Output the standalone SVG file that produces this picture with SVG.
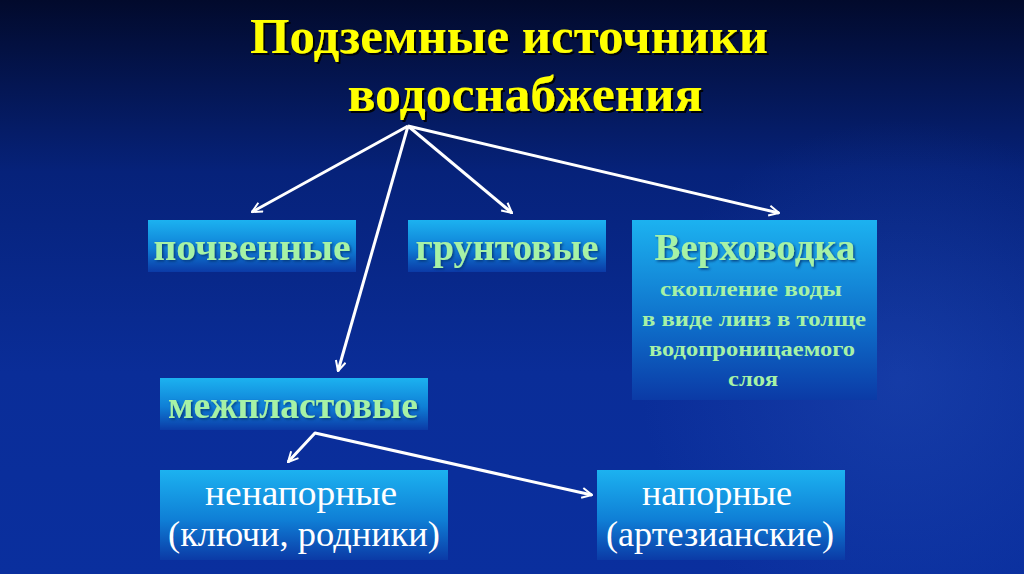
<svg xmlns="http://www.w3.org/2000/svg" width="1024" height="574" viewBox="0 0 1024 574">
<defs>
<linearGradient id="bg" x1="0" y1="0" x2="0" y2="1">
<stop offset="0" stop-color="#020a2c"/>
<stop offset="0.3" stop-color="#06227a"/>
<stop offset="0.65" stop-color="#0a2d98"/>
<stop offset="1" stop-color="#0a2f9e"/>
</linearGradient>
<radialGradient id="glow" cx="900" cy="380" r="260" gradientUnits="userSpaceOnUse">
<stop offset="0" stop-color="#2a56c0" stop-opacity="0.35"/>
<stop offset="1" stop-color="#2a56c0" stop-opacity="0"/>
</radialGradient>
<linearGradient id="box" x1="0" y1="0" x2="0" y2="1">
<stop offset="0" stop-color="#1cb2f0"/>
<stop offset="0.55" stop-color="#0f7fd6"/>
<stop offset="1" stop-color="#0b3aa6"/>
</linearGradient>
<linearGradient id="boxTall" x1="0" y1="0" x2="0" y2="1">
<stop offset="0" stop-color="#1cb2f0"/>
<stop offset="0.6" stop-color="#0e6cc8"/>
<stop offset="1" stop-color="#0b3aa6"/>
</linearGradient>
<marker id="ah" viewBox="0 0 12 12" refX="11" refY="6" markerWidth="12" markerHeight="12" markerUnits="userSpaceOnUse" orient="auto-start-reverse">
<path d="M1,1 L11,6 L1,11" fill="none" stroke="#ffffff" stroke-width="2"/>
</marker>
<filter id="sh" x="-10%" y="-10%" width="120%" height="130%">
<feDropShadow dx="2" dy="2" stdDeviation="0.6" flood-color="#000000" flood-opacity="0.9"/>
</filter>
<filter id="sh2" x="-10%" y="-10%" width="120%" height="130%">
<feDropShadow dx="1.5" dy="1.5" stdDeviation="0.8" flood-color="#06306e" flood-opacity="0.8"/>
</filter>
</defs>
<style>
.title{font-family:"Liberation Serif","DejaVu Serif",serif;font-weight:bold;font-size:50px;fill:#ffff00;text-anchor:middle}
.lbl{font-family:"Liberation Serif","DejaVu Serif",serif;font-weight:bold;font-size:37px;fill:#a6f2a6;text-anchor:middle}
.sub{font-family:"Liberation Serif","DejaVu Serif",serif;font-weight:bold;font-size:22px;fill:#a6f2a6;text-anchor:middle}
.wt{font-family:"Liberation Serif","DejaVu Serif",serif;font-size:35px;fill:#ffffff;text-anchor:middle}
.conn{fill:none;stroke:#ffffff;stroke-width:3;marker-end:url(#ah)}
</style>
<rect x="0" y="0" width="1024" height="574" fill="url(#bg)"/>
<rect x="0" y="0" width="1024" height="574" fill="url(#glow)"/>

<g id="title" filter="url(#sh)">
<text class="title" x="509" y="53" textLength="518" lengthAdjust="spacingAndGlyphs">Подземные источники</text>
<text class="title" x="525" y="111" textLength="355" lengthAdjust="spacingAndGlyphs">водоснабжения</text>
</g>

<g id="pochvennye">
<rect x="148" y="220" width="208" height="52" fill="url(#box)"/>
<text class="lbl" x="252" y="260" textLength="197" lengthAdjust="spacingAndGlyphs" filter="url(#sh2)">почвенные</text>
</g>
<g id="gruntovye">
<rect x="408" y="220" width="198" height="52" fill="url(#box)"/>
<text class="lbl" x="507" y="260" textLength="183" lengthAdjust="spacingAndGlyphs" filter="url(#sh2)">грунтовые</text>
</g>
<g id="verkhovodka">
<rect x="632" y="220" width="245" height="180" fill="url(#boxTall)"/>
<text class="lbl" x="755" y="260" textLength="201" lengthAdjust="spacingAndGlyphs" filter="url(#sh2)">Верховодка</text>
<text class="sub" x="751" y="296" textLength="182" lengthAdjust="spacingAndGlyphs">скопление воды</text>
<text class="sub" x="754" y="326" textLength="224" lengthAdjust="spacingAndGlyphs">в виде линз в толще</text>
<text class="sub" x="752" y="356" textLength="206" lengthAdjust="spacingAndGlyphs">водопроницаемого</text>
<text class="sub" x="753" y="386" textLength="50" lengthAdjust="spacingAndGlyphs">слоя</text>
</g>
<g id="mezhplastovye">
<rect x="160" y="378" width="268" height="52" fill="url(#box)"/>
<text class="lbl" x="293" y="418" textLength="250" lengthAdjust="spacingAndGlyphs" filter="url(#sh2)">межпластовые</text>
</g>
<g id="nenapornye">
<rect x="160" y="470" width="288" height="90" fill="url(#box)"/>
<text class="wt" x="301" y="505" textLength="192" lengthAdjust="spacingAndGlyphs">ненапорные</text>
<text class="wt" x="304" y="546" textLength="272" lengthAdjust="spacingAndGlyphs">(ключи, родники)</text>
</g>
<g id="napornye">
<rect x="597" y="470" width="248" height="90" fill="url(#box)"/>
<text class="wt" x="717" y="505" textLength="150" lengthAdjust="spacingAndGlyphs">напорные</text>
<text class="wt" x="720" y="546" textLength="228" lengthAdjust="spacingAndGlyphs">(артезианские)</text>
</g>

<g id="connectors">
<line class="conn" x1="408" y1="126" x2="252" y2="212"/>
<line class="conn" x1="408" y1="126" x2="512" y2="213"/>
<line class="conn" x1="408" y1="126" x2="779" y2="213"/>
<line class="conn" x1="408" y1="126" x2="338" y2="371"/>
<path class="conn" d="M288,462 L315,433 L592,495" style="marker-start:url(#ah)" stroke-linejoin="round"/>
</g>
</svg>
